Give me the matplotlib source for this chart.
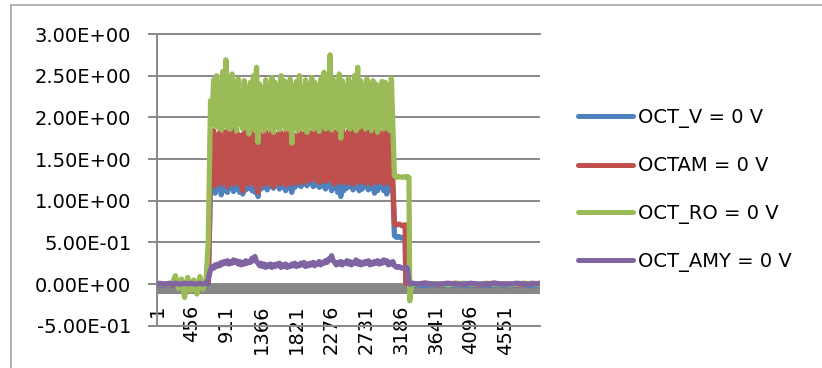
import numpy as np
import matplotlib

matplotlib.use("Agg")
import matplotlib.pyplot as plt  # noqa: E402
from matplotlib.lines import Line2D  # noqa: E402
from matplotlib.ticker import FuncFormatter  # noqa: E402

# sample positions along the category axis (1 .. 5000)
pre_idx = np.arange(1, 642, 40)
rise_idx = [670, 690]
active_idx = np.arange(700, 3081, 20)
fall_idx = [3100, 3130, 3160, 3200, 3240, 3250, 3270, 3290, 3300, 3320, 3340]
tail_idx = np.arange(3400, 5001, 100)
sample_idx = np.concatenate([pre_idx, rise_idx, active_idx, fall_idx, tail_idx])

oct_v = [
    # baseline
    -0.01, -0.02, -0.01, -0.01, -0.02, -0.01, -0.02, -0.01, -0.02, -0.03,
    -0.01, -0.02, -0.01, -0.02, -0.01, -0.02, -0.01,
    0.00, 0.80,
    # stimulus on
    1.28, 1.12, 1.30, 1.09, 1.26, 1.14, 1.32, 1.07, 1.28, 1.12,
    1.30, 1.10, 1.27, 1.15, 1.31, 1.11, 1.29, 1.14, 1.33, 1.10,
    1.28, 1.08, 1.30, 1.13, 1.26, 1.15, 1.32, 1.12, 1.29, 1.10,
    1.27, 1.05, 1.31, 1.14, 1.28, 1.16, 1.33, 1.13, 1.30, 1.17,
    1.27, 1.15, 1.32, 1.18, 1.29, 1.14, 1.31, 1.16, 1.28, 1.12,
    1.33, 1.15, 1.30, 1.10, 1.27, 1.16, 1.32, 1.19, 1.34, 1.17,
    1.30, 1.20, 1.33, 1.18, 1.29, 1.21, 1.32, 1.17, 1.30, 1.19,
    1.34, 1.16, 1.31, 1.18, 1.28, 1.14, 1.32, 1.17, 1.30, 1.12,
    1.33, 1.15, 1.29, 1.10, 1.31, 1.05, 1.28, 1.12, 1.32, 1.15,
    1.30, 1.17, 1.33, 1.13, 1.29, 1.16, 1.31, 1.12, 1.34, 1.14,
    1.30, 1.17, 1.28, 1.13, 1.32, 1.15, 1.29, 1.09, 1.31, 1.12,
    1.33, 1.16, 1.30, 1.12, 1.28, 1.08, 1.32, 1.13, 1.30, 1.15,
    # switch off
    0.58, 0.56, 0.57, 0.55, 0.57, 0.01, 0.00, -0.01, -0.01, -0.01, -0.02,
    -0.01, -0.02, -0.01, -0.01, -0.02, -0.01, -0.01, -0.02, -0.01, -0.02,
    -0.01, -0.01, -0.02, -0.01, -0.01, -0.02, -0.01,
]

octam = [
    0.00, -0.01, 0.00, 0.00, -0.01, 0.00, -0.01, 0.00, 0.01, -0.01,
    0.00, -0.01, 0.00, 0.01, 0.00, -0.01, 0.00,
    0.02, 0.90,
    1.80, 1.22, 1.84, 1.18, 1.78, 1.25, 1.82, 1.20, 1.76, 1.24,
    1.83, 1.17, 1.79, 1.22, 1.85, 1.20, 1.74, 1.25, 1.80, 1.19,
    1.78, 1.12, 1.82, 1.22, 1.76, 1.20, 1.84, 1.24, 1.79, 1.18,
    1.72, 1.10, 1.81, 1.22, 1.77, 1.19, 1.83, 1.24, 1.78, 1.20,
    1.85, 1.17, 1.75, 1.23, 1.80, 1.20, 1.82, 1.25, 1.78, 1.19,
    1.84, 1.22, 1.70, 1.20, 1.80, 1.25, 1.77, 1.21, 1.83, 1.26,
    1.79, 1.22, 1.85, 1.27, 1.78, 1.24, 1.82, 1.28, 1.80, 1.25,
    1.84, 1.22, 1.79, 1.26, 1.86, 1.23, 1.81, 1.27, 1.84, 1.24,
    1.78, 1.20, 1.83, 1.25, 1.80, 1.22, 1.85, 1.26, 1.79, 1.21,
    1.84, 1.24, 1.82, 1.20, 1.86, 1.25, 1.90, 1.22, 1.97, 1.26,
    1.88, 1.21, 1.84, 1.24, 1.80, 1.20, 1.85, 1.25, 1.78, 1.22,
    1.83, 1.26, 1.80, 1.21, 1.84, 1.24, 1.79, 1.20, 1.82, 1.23,
    0.72, 0.71, 0.72, 0.70, 0.71, 0.01, 0.00, 0.00, 0.01, 0.00, 0.00,
    0.00, 0.01, 0.00, -0.01, 0.00, 0.01, 0.00, 0.00, -0.01, 0.00,
    0.01, 0.00, 0.00, -0.01, 0.00, 0.01, 0.00,
]

oct_ro = [
    0.00, 0.00, 0.00, 0.00, 0.00, 0.01, 0.10, -0.05, 0.06, -0.16,
    0.08, -0.08, 0.05, -0.12, 0.09, -0.06, 0.04,
    0.50, 1.60,
    2.20, 1.95, 2.45, 1.90, 2.50, 1.88, 2.42, 1.85, 2.55, 1.90,
    2.69, 1.87, 2.48, 1.86, 2.52, 1.90, 2.38, 1.84, 2.46, 1.92,
    2.30, 1.86, 2.44, 1.88, 2.36, 1.80, 2.42, 1.90, 2.50, 1.85,
    2.60, 1.70, 2.40, 1.88, 2.35, 1.84, 2.45, 1.90, 2.38, 1.86,
    2.48, 1.82, 2.42, 1.88, 2.36, 1.85, 2.50, 1.90, 2.44, 1.86,
    2.40, 1.86, 2.46, 1.69, 2.38, 1.88, 2.43, 1.84, 2.50, 1.90,
    2.36, 1.86, 2.45, 1.82, 2.40, 1.90, 2.48, 1.86, 2.42, 1.88,
    2.38, 1.83, 2.46, 1.90, 2.54, 1.86, 2.44, 1.88, 2.75, 1.85,
    2.46, 1.90, 2.40, 1.86, 2.52, 1.75, 2.44, 1.88, 2.38, 1.92,
    2.47, 1.86, 2.42, 1.90, 2.50, 1.84, 2.60, 1.88, 2.44, 1.92,
    2.38, 1.86, 2.46, 1.90, 2.36, 1.84, 2.44, 1.88, 2.40, 1.82,
    2.35, 1.90, 2.43, 1.86, 2.42, 1.88, 2.38, 1.84, 2.47, 1.90,
    1.30, 1.28, 1.29, 1.28, 1.29, 1.28, 1.29, 1.28, -0.20, -0.02, 0.00,
    0.00, 0.01, 0.00, 0.00, -0.01, 0.00, 0.01, 0.00, 0.00, 0.01,
    0.00, 0.00, -0.01, 0.00, 0.01, 0.00, 0.00,
]

oct_amy = [
    0.00, 0.01, 0.00, 0.00, 0.01, 0.00, 0.01, 0.00, 0.00, 0.01,
    0.00, 0.01, 0.00, 0.00, 0.01, 0.00, 0.01,
    0.05, 0.14,
    0.17, 0.21, 0.19, 0.23, 0.21, 0.24, 0.22, 0.26, 0.24, 0.27,
    0.25, 0.28, 0.24, 0.27, 0.25, 0.29, 0.26, 0.28, 0.24, 0.27,
    0.23, 0.26, 0.24, 0.28, 0.25, 0.27, 0.26, 0.31, 0.28, 0.33,
    0.27, 0.25, 0.22, 0.25, 0.21, 0.24, 0.20, 0.23, 0.21, 0.24,
    0.20, 0.23, 0.21, 0.24, 0.22, 0.25, 0.20, 0.23, 0.21, 0.24,
    0.20, 0.22, 0.21, 0.24, 0.22, 0.25, 0.21, 0.23, 0.22, 0.25,
    0.23, 0.26, 0.21, 0.24, 0.22, 0.25, 0.23, 0.26, 0.22, 0.25,
    0.24, 0.27, 0.23, 0.26, 0.25, 0.28, 0.26, 0.30, 0.29, 0.34,
    0.28, 0.26, 0.23, 0.26, 0.24, 0.27, 0.23, 0.26, 0.25, 0.28,
    0.24, 0.27, 0.23, 0.26, 0.25, 0.29, 0.24, 0.27, 0.23, 0.26,
    0.24, 0.27, 0.25, 0.28, 0.23, 0.26, 0.24, 0.27, 0.25, 0.28,
    0.24, 0.27, 0.25, 0.29, 0.26, 0.28, 0.23, 0.26, 0.24, 0.27,
    0.22, 0.20, 0.21, 0.19, 0.20, 0.20, 0.19, 0.01, 0.00, 0.00, 0.01,
    0.00, 0.01, 0.00, 0.00, 0.01, 0.00, 0.00, 0.01, 0.00, 0.00,
    0.01, 0.00, 0.00, 0.01, 0.00, 0.00, 0.01,
]

series_names = ["OCT_V = 0 V", "OCTAM = 0 V", "OCT_RO = 0 V", "OCT_AMY = 0 V"]
series_colors = ["#4F81BD", "#C0504D", "#9BBB59", "#8064A2"]
y_ticks = [-0.5, 0.0, 0.5, 1.0, 1.5, 2.0, 2.5, 3.0]
x_tick_labels = [1, 456, 911, 1366, 1821, 2276, 2731, 3186, 3641, 4096, 4551]

GRID = "#898989"
plt.rcParams["font.family"] = ["DejaVu Sans"]

fig = plt.figure(figsize=(8.22, 3.68), dpi=100)
ax = fig.add_axes([0.1910, 0.1149, 0.4659, 0.7927])

# outer chart border (left and top edges only are in view)
fig.add_artist(Line2D([0.0134, 0.0134], [-0.1, 0.9864], color="#A6A6A6", lw=1.2))
fig.add_artist(Line2D([0.0134, 1.1], [0.9864, 0.9864], color="#A6A6A6", lw=1.2))

for values, name, color in zip([oct_v, octam, oct_ro, oct_amy], series_names, series_colors):
    ax.plot(sample_idx, values, color=color, lw=3.8, label=name,
            solid_joinstyle="round", solid_capstyle="round", zorder=3)

# thick horizontal category axis at zero
ax.axhline(-0.055, color="#878787", lw=6.5, zorder=2)

ax.set_xlim(1, 5000)
ax.set_ylim(-0.5, 3.0)
ax.set_yticks(y_ticks)
ax.yaxis.set_major_formatter(FuncFormatter(lambda v, _: f"{v:.2E}"))
ax.grid(axis="y", color=GRID, lw=1.4, zorder=0)
ax.set_axisbelow(True)

ax.set_xticks(x_tick_labels)
ax.set_xticklabels([str(t) for t in x_tick_labels], rotation=90)
ax.tick_params(axis="x", length=0, pad=-15, labelsize=14)
ax.tick_params(axis="y", length=6.5, width=1.4, color=GRID, pad=12, labelsize=14)

ax.spines["right"].set_visible(False)
for side in ["left", "top", "bottom"]:
    ax.spines[side].set_color(GRID)
    ax.spines[side].set_linewidth(1.4)

leg = ax.legend(loc="upper left", bbox_to_anchor=(578 / 822, 1 - 108 / 368),
                bbox_transform=fig.transFigure, frameon=False, fontsize=14,
                handlelength=2.83, handletextpad=0.26, labelspacing=1.46,
                borderpad=0, borderaxespad=0)
for handle in leg.get_lines():
    handle.set_linewidth(3.6)

fig.savefig("out.png", dpi=100)
